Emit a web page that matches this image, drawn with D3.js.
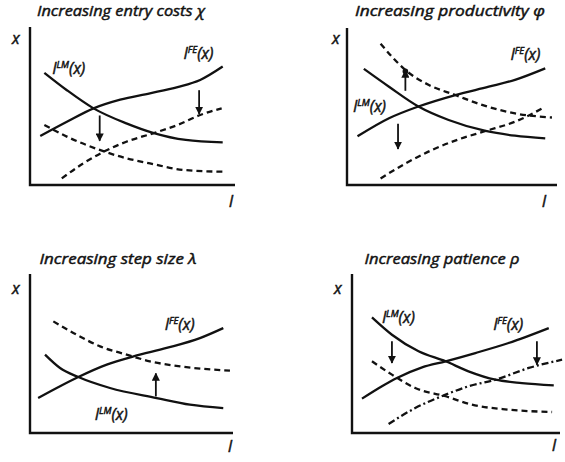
<!DOCTYPE html>
<html>
<head>
<meta charset="utf-8">
<script src="https://cdn.jsdelivr.net/npm/d3@7"></script>
<style>
  body { margin: 0; background: #fff; }
  svg text { font-family: "Open Sans", Lato, sans-serif; font-style: italic; font-weight: 400; fill: #111; stroke: #111; stroke-width: 0.45px; }
</style>
</head>
<body>
<div id="chart"></div>
<script>
// curves as [l, x] in 0..100 units of each panel's axes
// panel 1 - entry costs
let p1LM = [[7,71],[18,60],[31,48.5],[47,39],[60,33],[76,28.5],[94,27]];
let p1FE = [[5,31],[18,40],[31,48.5],[44,54],[58.5,58],[72,62],[83,66.5],[94,75]];
let p1LMnew = [[7,38],[18,30.6],[34,22.2],[47,16.9],[58.5,13.7],[75,9.5],[94,8.4]];
let p1FEnew = [[15.5,4.2],[26,13.7],[36,21.1],[47,27.4],[60,32.7],[72,38],[83,44.3],[93.5,48.5]];
let p1Arrows = [[34,44,28],[82.5,60,45]];
// panel 2 - productivity
let p2LM = [[8,74],[20,62.6],[34,50],[48.4,41.4],[66,34.4],[80,31.4],[94.4,29.7]];
let p2FE = [[5,31],[20,42.5],[34,50],[51.6,57.3],[67.5,62.6],[80,67],[94.4,74.3]];
let p2LMnew = [[16,90],[21.4,81.7],[28,73],[39,63.7],[51.6,57.3],[64.3,51],[80,45.6],[97.6,43]];
let p2FEnew = [[16,4.2],[28,13.8],[40.5,22.3],[53,29],[66,34.4],[80,40.3],[93,48.8]];
let p2Arrows = [[27.8,60,73],[24.3,39,23]];
// panel 3 - step size
let p3LM = [[7.4,49.3],[14.8,40.9],[23.8,35.2],[39.4,28.3],[62.4,22],[78.8,17.8],[95.2,15.7]];
let p3FE = [[4,22],[14.8,29.4],[23.8,35.2],[37.8,43],[51,48.2],[67.3,53.5],[83.7,59.7],[95.2,66]];
let p3LMnew = [[11.5,70.2],[23,61.8],[34.5,54.5],[47.6,49.3],[59,45.1],[74,41.9],[98.5,39.2]];
let p3Arrows = [[62,23,37.5]];
// panel 4 - patience
let p4LM = [[9.6,72.7],[19.2,61.8],[32,51.4],[45,45.1],[56,38.8],[69,33.5],[81.7,31.4],[97,30]];
let p4FE = [[4.8,21.6],[14.4,29.4],[21.6,34.6],[33.7,41.3],[45,45.1],[59.3,50.3],[75.3,56.6],[94.6,66]];
let p4LMnew = [[9.6,45.1],[19.2,36.7],[30.4,28.3],[45,23.1],[57.7,17.8],[75.3,14.7],[96.2,13.2]];
let p4FEnew = [[17.6,5.7],[30.4,15.7],[45,24.1],[56,29.4],[69,33.5],[85,40.9],[101,46.1]];
let p4Arrows = [[19.2,57.7,44],[88.9,57.7,43]];

let titles = ['Increasing entry costs \u03c7', 'Increasing productivity  \u03c6', 'Increasing step size \u03bb', 'Increasing patience \u03c1'];

let W = 565, H = 462;
let svg = d3.select('#chart').append('svg').attr('width', W).attr('height', H);

let defs = svg.append('defs');
defs.append('marker').attr('id','head')
    .attr('viewBox','0 0 10 10').attr('refX',9).attr('refY',5)
    .attr('markerWidth',4.5).attr('markerHeight',4.5).attr('orient','auto-start-reverse')
    .attr('markerUnits','strokeWidth')
  .append('path').attr('d','M0,0 L10,5 L0,10 z').attr('fill','#111');

let panels = [
    {box:[30,235,27,185], title:titles[0], tw:168, tx:121, ty:16,
     lines:[{d:p1LM},{d:p1FE},{d:p1LMnew,dash:'6,4'},{d:p1FEnew,dash:'6,4'}],
     arrows:p1Arrows,
     labels:[{t:'LM',l:11,x:70},{t:'FE',l:75,x:79.5}],
     xl:[12,44], ll:[229,207]},
    {box:[347,557,28,185], title:titles[1], tw:190, tx:450, ty:16,
     lines:[{d:p2LM},{d:p2FE},{d:p2LMnew,dash:'6,4'},{d:p2FEnew,dash:'6,4'}],
     arrows:p2Arrows, dot:0,
     labels:[{t:'FE',l:78,x:79.6},{t:'LM',l:3,x:46.7}],
     xl:[332,44], ll:[542,207]},
    {box:[30,233,274,433], title:titles[2], tw:157, tx:118, ty:264,
     lines:[{d:p3LM},{d:p3FE},{d:p3LMnew,dash:'6,4'}],
     arrows:p3Arrows,
     labels:[{t:'FE',l:66.5,x:65},{t:'LM',l:32,x:8.4}],
     xl:[12,294], ll:[228,452]},
    {box:[352,560,274,433], title:titles[3], tw:155, tx:442, ty:264,
     lines:[{d:p4LM},{d:p4FE},{d:p4LMnew,dash:'6,4'},{d:p4FEnew,dash:'7,3,2,3'}],
     arrows:p4Arrows,
     labels:[{t:'LM',l:14.5,x:69.2},{t:'FE',l:68,x:65}],
     xl:[334,294], ll:[552,451]}
];

panels.forEach(function(p){
    let [x0,x1,y0,y1] = p.box;
    let sl = d3.scaleLinear().domain([0,100]).range([x0,x1]);
    let sx = d3.scaleLinear().domain([0,100]).range([y1,y0]);
    let g = svg.append('g');

    // axes
    g.append('path')
        .attr('d','M'+x0+','+y0+' L'+x0+','+y1+' L'+x1+','+y1)
        .attr('fill','none').attr('stroke','#111').attr('stroke-width',2.4);

    g.append('text').attr('x',p.tx).attr('y',p.ty)
        .attr('text-anchor','middle').style('font-size','14.5px')
        .attr('textLength',p.tw).attr('lengthAdjust','spacingAndGlyphs')
        .text(p.title);
    g.append('text').attr('x',p.xl[0]).attr('y',p.xl[1]).style('font-size','16px').text('x');
    g.append('text').attr('x',p.ll[0]).attr('y',p.ll[1]).style('font-size','16px').text('l');

    let line = d3.line().x(d=>sl(d[0])).y(d=>sx(d[1])).curve(d3.curveMonotoneX);
    g.selectAll('.crv').data(p.lines).enter().append('path')
        .attr('d',d=>line(d.d))
        .attr('fill','none').attr('stroke','#111').attr('stroke-width',2.3)
        .attr('stroke-dasharray',d=>d.dash||null);

    g.selectAll('.arr').data(p.arrows).enter().append('line')
        .attr('x1',d=>sl(d[0])).attr('x2',d=>sl(d[0]))
        .attr('y1',d=>sx(d[1])).attr('y2',d=>sx(d[2]))
        .attr('stroke','#111').attr('stroke-width',1.8)
        .attr('marker-end','url(#head)');

    if(p.dot!==undefined){
        let a = p.arrows[p.dot];
        g.append('circle').attr('cx',sl(a[0])).attr('cy',sx(a[2])+1).attr('r',2.8).attr('fill','#111');
    }

    let lab = g.selectAll('.lab').data(p.labels).enter().append('text')
        .attr('x',d=>sl(d.l)).attr('y',d=>sx(d.x)).style('font-size','15.5px');
    lab.append('tspan').text('l');
    lab.append('tspan').attr('dy',-6).style('font-size','9.5px').text(d=>d.t);
    lab.append('tspan').attr('dy',6).text('(x)');
});
</script>
</body>
</html>
